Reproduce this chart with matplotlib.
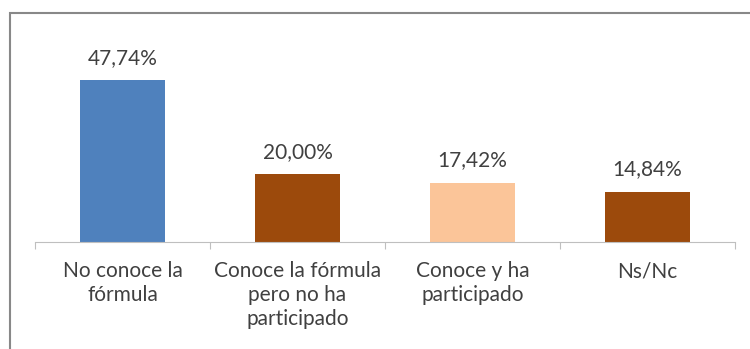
import matplotlib.pyplot as plt
from matplotlib.patches import Rectangle

# survey answers and their share of respondents (%)
categories = ['No conoce la\nfórmula', 'Conoce la fórmula\npero no ha\nparticipado',
              'Conoce y ha\nparticipado', 'Ns/Nc']
values = [47.74, 20.00, 17.42, 14.84]
value_labels = ['47,74%', '20,00%', '17,42%', '14,84%']
colors = ['#4F81BD', '#9C4A0C', '#FBC599', '#9C4A0C']

plt.rcParams['font.family'] = ['Lato', 'DejaVu Sans']
text_color = '#404040'

fig = plt.figure(figsize=(7.5, 3.49), dpi=100)

# outer chart frame, only left and top edges fall inside the image
fig.patches.append(Rectangle((10 / 750, -0.1), 1.2, (349 - 13) / 349 + 0.1,
                             transform=fig.transFigure, fill=False,
                             edgecolor='#888888', linewidth=1.5))

ax = fig.add_axes([35 / 750, (349 - 242) / 349, 700 / 750, 200 / 349])
x = range(len(categories))
bars = ax.bar(x, values, width=0.49, color=colors)
ax.set_xlim(-0.5, len(categories) - 0.5)
ax.set_ylim(0, 59)

for b, lab in zip(bars, value_labels):
    ax.annotate(lab, (b.get_x() + b.get_width() / 2, b.get_height()),
                xytext=(0, 9), textcoords='offset points', ha='center',
                va='bottom', fontsize=15, color=text_color)

for s in ['left', 'right', 'top']:
    ax.spines[s].set_visible(False)
ax.spines['bottom'].set_color('#BFBFBF')
ax.set_yticks([])

# tick marks sit between categories
ax.set_xticks([i - 0.5 for i in range(len(categories) + 1)])
ax.set_xticklabels([])
ax.tick_params(axis='x', length=5, color='#BFBFBF')
for i, c in enumerate(categories):
    ax.annotate(c, (i, 0), xycoords=('data', 'axes fraction'),
                xytext=(0, -14), textcoords='offset points', ha='center',
                va='top', fontsize=15, color=text_color, linespacing=1.25)

fig.savefig('out.png', dpi=100)
